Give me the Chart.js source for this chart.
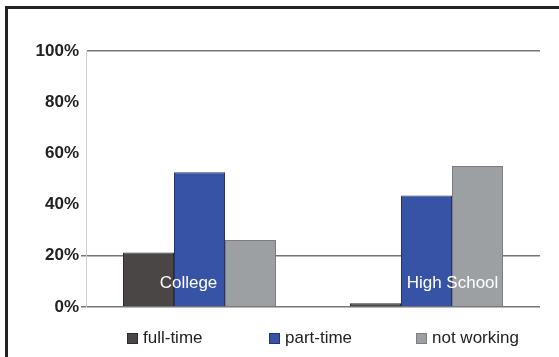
<!DOCTYPE html>
<html>
<head>
<meta charset="utf-8">
<script src="https://cdn.jsdelivr.net/npm/chart.js@4/dist/chart.umd.min.js"></script>
<style>
  html, body { margin: 0; padding: 0; background: #fff; }
  canvas { display: block; }
</style>
</head>
<body>
<canvas id="c" width="559" height="357"></canvas>
<script>
// Share of students by work status, per school level (%)
const categories = ['College', 'High School'];
const seriesNames = ['full-time', 'part-time', 'not working'];
const fullTime = [21.3, 1.5];
const partTime = [52.6, 43.6];
const notWorking = [26.2, 55.1];
const yTicks = [0, 20, 40, 60, 80, 100];
const gridValues = [0, 20, 100];

const FONT = "'Liberation Sans', Arial, sans-serif";
const colors = ['#4a4646', '#3653a5', '#9da0a2'];
const borders = ['#2e2b2b', '#26336a', '#7c7e81'];

// horizontal nudge of the in-plot category captions, px
const captionNudge = [-11, 26];
// legend item left edges, px
const legendX = [127, 269, 416];

const framePlugin = {
  id: 'frame',
  beforeDraw(chart) {
    const ctx = chart.ctx;
    ctx.save();
    ctx.fillStyle = '#fff';
    ctx.fillRect(0, 0, chart.width, chart.height);
    ctx.fillStyle = '#222';
    ctx.fillRect(5, 6, chart.width - 5, 3);
    ctx.fillRect(5, 6, 3, chart.height - 6);
    ctx.restore();
  }
};

const captionPlugin = {
  id: 'captions',
  afterDatasetsDraw(chart) {
    const ctx = chart.ctx;
    const xs = chart.scales.x, ys = chart.scales.y;
    ctx.save();
    ctx.font = '17px ' + FONT;
    ctx.fillStyle = '#fff';
    ctx.textAlign = 'center';
    ctx.textBaseline = 'middle';
    categories.forEach((c, i) => {
      ctx.fillText(c, xs.getPixelForValue(i) + captionNudge[i], ys.getPixelForValue(0) - 24);
    });
    ctx.restore();
  }
};

const legendPlugin = {
  id: 'bottomLegend',
  afterDraw(chart) {
    const ctx = chart.ctx;
    const y = 338.5;
    ctx.save();
    ctx.font = '17px ' + FONT;
    ctx.textBaseline = 'middle';
    ctx.textAlign = 'left';
    chart.data.datasets.forEach((ds, i) => {
      const x = legendX[i];
      ctx.fillStyle = ds.backgroundColor;
      ctx.fillRect(x, y - 5.5, 11, 11);
      ctx.strokeStyle = ds.borderColor;
      ctx.lineWidth = 1;
      ctx.strokeRect(x + 0.5, y - 5, 10, 10);
      ctx.fillStyle = '#222';
      ctx.fillText(ds.label, x + 16, y);
    });
    ctx.restore();
  }
};

const seriesValues = [fullTime, partTime, notWorking];

new Chart(document.getElementById('c'), {
  type: 'bar',
  data: {
    labels: categories,
    datasets: seriesNames.map((name, i) => ({
      label: name,
      data: seriesValues[i],
      backgroundColor: colors[i],
      borderColor: borders[i],
      borderWidth: 1,
      categoryPercentage: 0.674,
      barPercentage: 1
    }))
  },
  options: {
    responsive: false,
    animation: false,
    devicePixelRatio: 1,
    layout: { padding: { left: 0, right: 19, top: 51, bottom: 50 } },
    plugins: {
      legend: { display: false },
      tooltip: { enabled: false }
    },
    scales: {
      x: { display: false },
      y: {
        min: 0,
        max: 100,
        afterBuildTicks(scale) { scale.ticks = yTicks.map(v => ({ value: v })); },
        afterFit(scale) { scale.width = 86; },
        border: { display: true, color: '#cfcfcf', width: 1 },
        grid: {
          color: c => gridValues.includes(c.tick.value) ? '#767676' : 'rgba(0,0,0,0)',
          lineWidth: 1.5,
          drawTicks: true,
          tickLength: 5,
          tickColor: c => (c.tick.value === 0 || c.tick.value === 20) ? '#767676' : 'rgba(0,0,0,0)'
        },
        ticks: {
          padding: 2,
          color: '#222',
          font: { family: FONT, size: 17, weight: 'bold' },
          callback: v => v + '%'
        }
      }
    }
  },
  plugins: [framePlugin, captionPlugin, legendPlugin]
});
</script>
</body>
</html>
